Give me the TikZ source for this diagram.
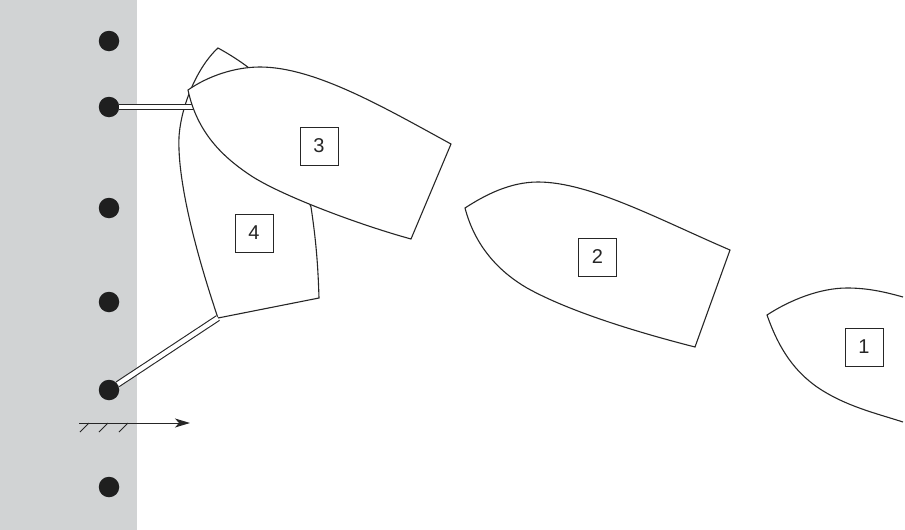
\documentclass[tikz,border=0pt]{standalone}
\usepackage{fontspec}
\setmainfont{Liberation Sans}
\usetikzlibrary{arrows.meta}
\definecolor{quay}{HTML}{D1D3D4}
\tikzset{
  hull/.style={draw=black!85,line width=1.1pt,fill=white,line join=miter},
  bollard/.style={circle,fill=black!88,minimum size=20.5pt,inner sep=0pt},
  mooring/.style={draw=black!85,line width=1.1pt,double=white,double distance=4.4pt},
  numbox/.style={draw=black!85,line width=1pt,minimum size=38pt,inner sep=0pt,font=\fontsize{20}{20}\selectfont,text=black!85}
}
\begin{document}
\begin{tikzpicture}[x=1pt,y=-1pt]
  \useasboundingbox (0,0) rectangle (905,530);
  \fill[quay] (0,0) rectangle (137,530);

  \coordinate (1A) at (767,315);
  \coordinate (1B) at (847,288);
  \coordinate (1C) at (903,297);
  \coordinate (1D) at (903,422);
  \coordinate (1E) at (817,387);

  \coordinate (2A) at (465,208);
  \coordinate (2B) at (538,182);
  \coordinate (2C) at (730,250);
  \coordinate (2D) at (695,347);
  \coordinate (2E) at (527,288);

  \coordinate (3A) at (188,90);
  \coordinate (3B) at (260,67);
  \coordinate (3C) at (451,144);
  \coordinate (3D) at (411,239);
  \coordinate (3E) at (253,177);

  \coordinate (4A) at (218,48);
  \coordinate (4B) at (179,137);
  \coordinate (4C) at (218,318);
  \coordinate (4D) at (319,298);
  \coordinate (4E) at (311,207);
  \coordinate (4F) at (249,68);
  \coordinate (4G) at (200,107);

  % boat 4 first, boat 3 hides it
  \draw[hull] (4A) .. controls (198,66) and (181,105) .. (4B)
    .. controls (177,185) and (200,265) .. (4C) -- (4D)
    .. controls (318,265) and (316,240) .. (4E) -- (4F)
    .. controls (240,61) and (229,54) .. cycle;

  \node[bollard] (B1) at (109,41) {};
  \node[bollard] (B2) at (109,107) {};
  \node[bollard] (B3) at (109,208) {};
  \node[bollard] (B4) at (109,302) {};
  \node[bollard] (B5) at (109,390) {};
  \node[bollard] (B6) at (109,487) {};
  \draw[mooring] (B2) -- (4G);
  \draw[mooring] (B5) -- (4C);

  \draw[hull] (3A) .. controls (208,76) and (235,67) .. (3B)
    .. controls (315,67) and (385,108) .. (3C) -- (3D)
    .. controls (360,225) and (285,197) .. (3E)
    .. controls (222,157) and (197,132) .. cycle;

  \draw[hull] (2A) .. controls (485,195) and (510,182) .. (2B)
    .. controls (590,182) and (660,220) .. (2C) -- (2D)
    .. controls (640,333) and (570,312) .. (2E)
    .. controls (503,274) and (476,250) .. cycle;

  \draw[hull,fill=none] (1D) .. controls (875,413) and (845,406) .. (1E)
    .. controls (796,372) and (780,352) .. (1A)
    .. controls (790,300) and (820,288) .. (1B)
    .. controls (868,288) and (885,292) .. (1C);

  \node[numbox] (N1) at (864,347) {1};
  \node[numbox] (N2) at (597.5,257) {2};
  \node[numbox] (N3) at (319,146) {3};
  \node[numbox] (N4) at (254,233) {4};

  \coordinate (S) at (79,423);
  \coordinate (T) at (190,423);
  \draw[black!85,line width=1pt,-{Stealth[length=15pt,width=9pt,inset=4pt]}] (S) -- (T);
  \foreach \hx in {80,99,119}
    \draw[black!85,line width=1pt] (\hx,432) -- (\hx+9,423);
\end{tikzpicture}
\end{document}
